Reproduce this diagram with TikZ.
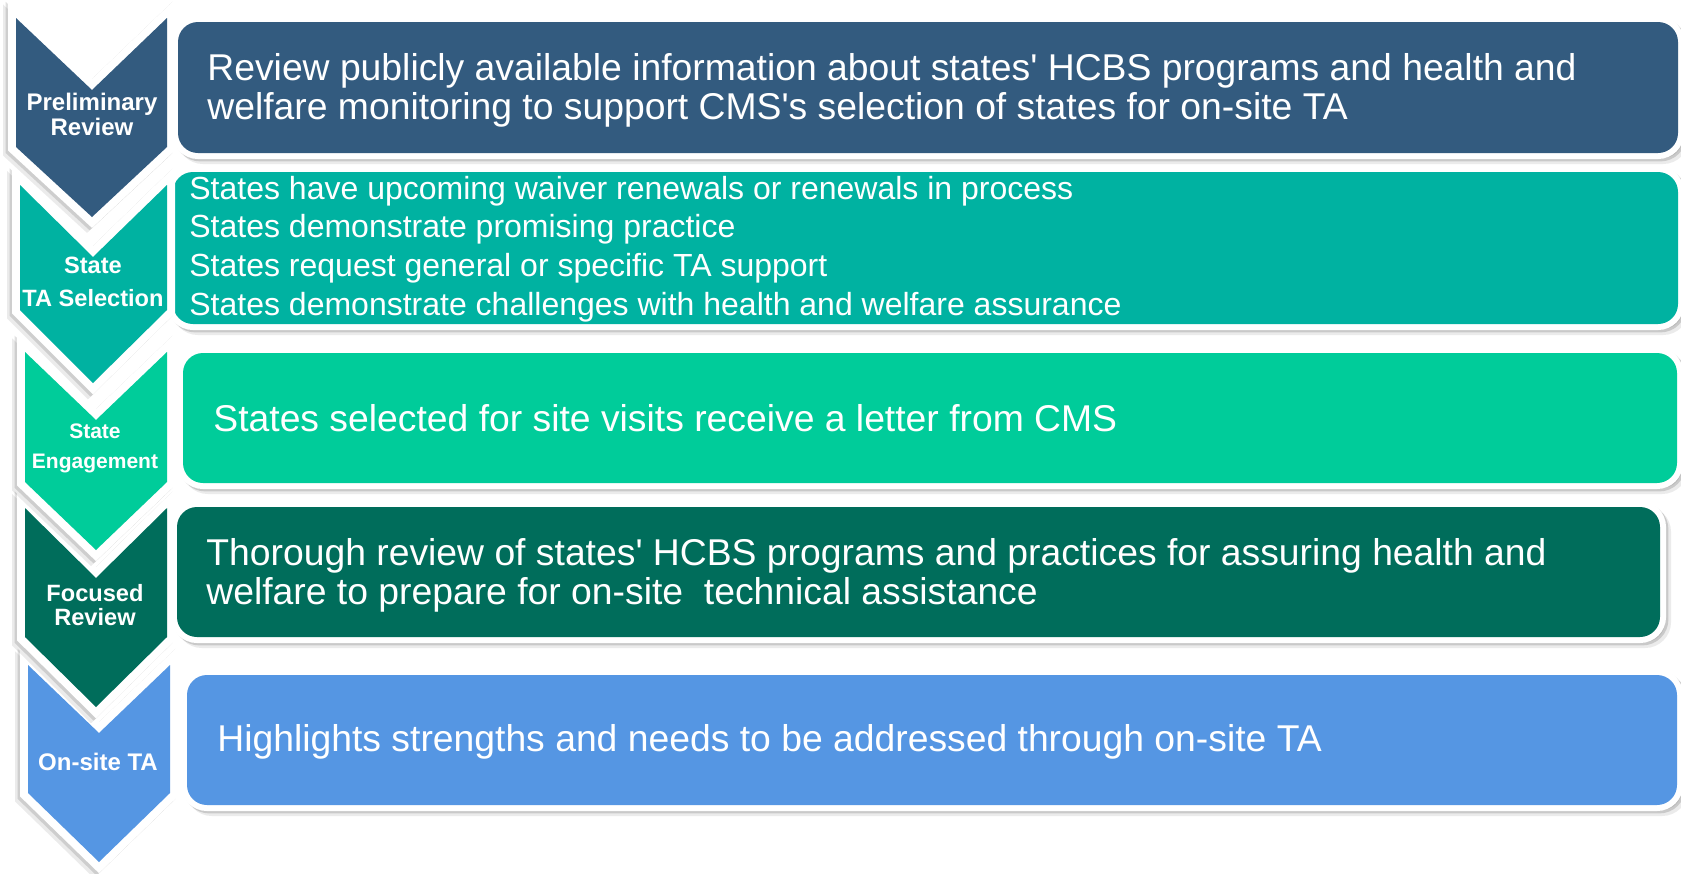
\documentclass[tikz,border=0pt]{standalone}
\usepackage{fontspec}
\setmainfont{Liberation Sans}
\usepackage{tikz}
\usepackage{xcolor}

\definecolor{prelimblue}{HTML}{335B7F}
\definecolor{selteal}{HTML}{00B2A1}
\definecolor{engagegreen}{HTML}{00CC9A}
\definecolor{focusgreen}{HTML}{006D5B}
\definecolor{onsiteblue}{HTML}{5596E3}

\begin{document}
\begin{tikzpicture}
	[x=0.5pt, y=-0.5pt,
	chevron/.style = {
		fill=#1,
		preaction={draw=black, fill=black, opacity=0.08, line width=8pt, line join=miter,
			transform canvas={shift={(-2.5pt,-2.5pt)}}},
		preaction={draw=black, fill=black, opacity=0.12, line width=8pt, line join=miter,
			transform canvas={shift={(-1.2pt,-1.2pt)}}},
		preaction={draw=white, line width=8pt, line join=miter}
	},
	stepbox/.style = {
		rounded corners=10pt, fill=#1,
		preaction={draw=black, fill=black, opacity=0.08, line width=6pt,
			transform canvas={shift={(2.5pt,-2.5pt)}}},
		preaction={draw=black, fill=black, opacity=0.14, line width=6pt,
			transform canvas={shift={(1.2pt,-1.2pt)}}},
		preaction={draw=white, line width=6pt}
	},
	steplabel/.style = {
		text=white, align=center, inner sep=0pt,
		font=\bfseries\fontsize{12}{12.5}\selectfont
	},
	steptext/.style = {
		text=white, anchor=west, align=left, inner sep=0pt,
		font=\fontsize{18.65}{19.5}\selectfont
	}]
	
	\useasboundingbox (0,0) rectangle (1681,873);
	\fill[white] (0,0) rectangle (1681,873);
	
	%Draw boxes
	\path[stepbox=prelimblue] (178,22) rectangle (1678,153);
	\path[stepbox=selteal] (173,172) rectangle (1678,324);
	\path[stepbox=engagegreen] (183,353) rectangle (1677,483);
	\path[stepbox=focusgreen] (177,507) rectangle (1660,637);
	\path[stepbox=onsiteblue] (187,675) rectangle (1677,805);
	
	%Draw chevrons, lowest first so the upper ones lie in front
	\path[chevron=onsiteblue] (28,665) -- (99,733) -- (170,665)
	-- (170,793) -- (99,862) -- (28,793) -- cycle;
	\path[chevron=focusgreen] (25,508) -- (96,578) -- (167,508)
	-- (167,637) -- (96,707) -- (25,637) -- cycle;
	\path[chevron=engagegreen] (25,352) -- (96,420) -- (167,352)
	-- (167,482) -- (96,550) -- (25,482) -- cycle;
	\path[chevron=selteal] (20,185) -- (93,257) -- (167,185)
	-- (167,310) -- (93,383) -- (20,310) -- cycle;
	\path[chevron=prelimblue] (16,18) -- (92,90) -- (167,18)
	-- (167,147) -- (92,217) -- (16,147) -- cycle;
	
	%Draw labels
	\node[steplabel] at (92,114.5) (prelim) {Preliminary\\Review};
	\node[steplabel, font=\bfseries\fontsize{11.8}{16.5}\selectfont]
	at (93,281.5) (tasel) {State\\TA Selection};
	\node[steplabel, font=\bfseries\fontsize{10.5}{15}\selectfont]
	at (95,448) (engage) {State\\Engagement};
	\node[steplabel, font=\bfseries\fontsize{11.8}{12}\selectfont]
	at (95,605) (focus) {Focused\\Review};
	\node[steplabel] at (98,762) (onsite) {On-site TA};
	
	%Draw texts
	\node[steptext] at (207,90) (prelimtext)
	{Review publicly available information about states\textquotesingle{} HCBS programs and health and\\
	welfare monitoring to support CMS\textquotesingle s selection of states for on-site TA};
	\node[steptext, font=\fontsize{16}{19.3}\selectfont] at (189,249) (taseltext)
	{States have upcoming waiver renewals or renewals in process\\
	States demonstrate promising practice\\
	States request general or specific TA support\\
	States demonstrate challenges with health and welfare assurance};
	\node[steptext] at (213,418) (engagetext)
	{States selected for site visits receive a letter from CMS};
	\node[steptext] at (206,575) (focustext)
	{Thorough review of states\textquotesingle{} HCBS programs and practices for assuring health and\\
	welfare to prepare for on-site\ \ technical assistance};
	\node[steptext] at (217,742) (onsitetext)
	{Highlights strengths and needs to be addressed through on-site TA};
	
\end{tikzpicture}
\end{document}
